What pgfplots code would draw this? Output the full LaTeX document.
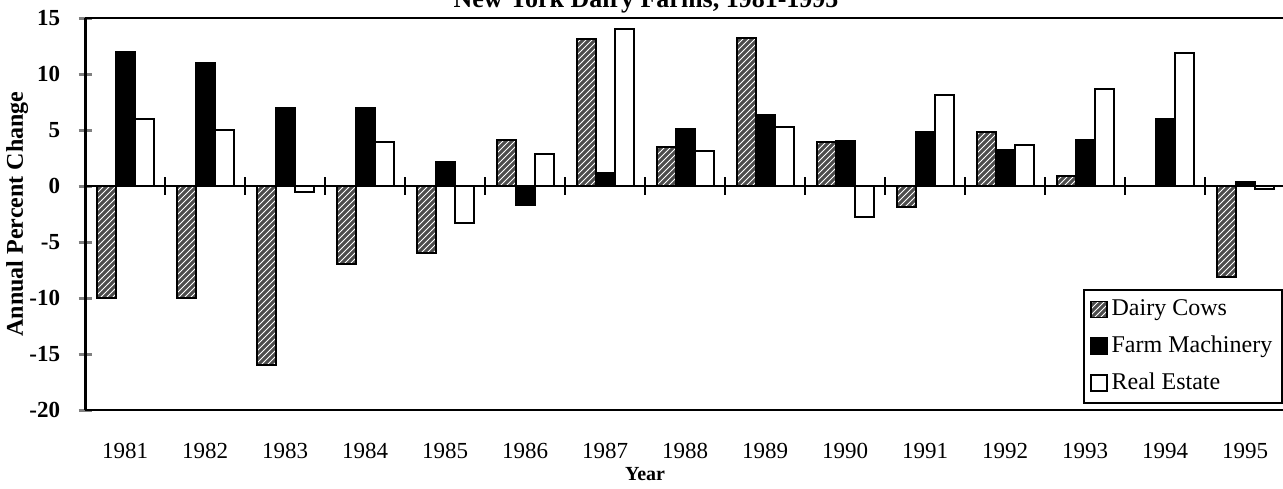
\documentclass[border=0pt]{standalone}
\usepackage{fontspec}
\setmainfont{Liberation Serif}
\usepackage{pgfplots}
\usepackage{pgfplotstable}
\pgfplotsset{compat=1.18}
\usetikzlibrary{patterns}

% annual percent change, x = 1 (1981) ... 15 (1995)
\pgfplotstableread{
x  dairy mach real
1  -10   12   6
2  -10   11   5
3  -16   7    -0.5
4  -7    7    3.9
5  -6    2.1  -3.3
6  4.1   -1.7 2.9
7  13.1  1.2  14.0
8  3.5   5.1  3.1
9  13.2  6.3  5.3
10 3.9   4.0  -2.8
11 -1.9  4.8  8.1
12 4.8   3.2  3.7
13 0.9   4.1  8.7
14 0     6.0  11.9
15 -8.1  0.4  -0.3
}\farmdata

\pgfplotsset{
  sqlegend/.style={legend image code/.code={
    \draw[##1, line width=0.8pt] (0pt,-4pt) rectangle (8pt,4pt);}},
}

\begin{document}
\begin{tikzpicture}
\begin{axis}[
    at={(42.5pt,39pt)}, anchor=south west,
    scale only axis,
    width=600pt, height=196pt,
    xmin=0.5, xmax=15.5,
    ymin=-20, ymax=15,
    ybar=0pt, bar width=9.5pt,
    xtick={1,...,15},
    xticklabels={1981,1982,1983,1984,1985,1986,1987,1988,1989,1990,1991,1992,1993,1994,1995},
    xtick style={draw=none},
    xticklabel style={font=\fontsize{11.5}{13}\selectfont, anchor=base, yshift=-21pt},
    ytick={-20,-15,...,15},
    ytick pos=left,
    tick align=center,
    major tick length=6.5pt,
    ytick style={line width=1.5pt},
    yticklabel style={font=\bfseries\fontsize{11.5}{13}\selectfont, anchor=east, inner sep=0pt, xshift=-9pt},
    /pgf/number format/assume math mode=true,
    separate axis lines,
    x axis line style={line width=0.8pt},
    y axis line style={line width=1.5pt},
    every axis title shift=0pt,
    title={New York Dairy Farms, 1981-1995},
    title style={font=\bfseries\fontsize{13}{15}\selectfont, at={(axis description cs:0.4675,1.028)}, anchor=base, inner sep=0pt},
    xlabel={Year},
    xlabel style={font=\bfseries\fontsize{10}{12}\selectfont, at={(axis description cs:0.4667,-0.181)}, anchor=base, inner sep=0pt},
    ylabel={Annual Percent Change},
    ylabel style={font=\bfseries\fontsize{12}{14}\selectfont, at={(axis description cs:-0.047,0.5)}, anchor=south, inner sep=0pt},
    legend style={at={(axis description cs:0.8317,0.3087)}, anchor=north west,
        draw=black, line width=1pt, font=\fontsize{12}{14}\selectfont,
        row sep=4.6pt, inner xsep=3pt, inner ysep=3pt},
    legend cell align=left,
]
\addplot[fill=black!70, draw=black, line width=1pt,
    postaction={pattern=north east lines, pattern color=white}, sqlegend]
    table[x=x, y=dairy] {\farmdata};
\addlegendentry{Dairy Cows}
\addplot[fill=black, draw=black, line width=1pt, sqlegend]
    table[x=x, y=mach] {\farmdata};
\addlegendentry{Farm Machinery}
\addplot[fill=white, draw=black, line width=1pt, sqlegend]
    table[x=x, y=real] {\farmdata};
\addlegendentry{Real Estate}
% zero line with group separators
\draw[line width=1pt] (axis cs:0.5,0) -- (axis cs:15.5,0);
\pgfplotsinvokeforeach{1.5,2.5,3.5,4.5,5.5,6.5,7.5,8.5,9.5,10.5,11.5,12.5,13.5,14.5}{
  \draw[line width=1pt] (axis cs:#1,-0.8) -- (axis cs:#1,0.8);
}
\end{axis}
\pgfresetboundingbox
\useasboundingbox (0,0) rectangle (641.5pt,244pt);
\end{tikzpicture}
\end{document}
